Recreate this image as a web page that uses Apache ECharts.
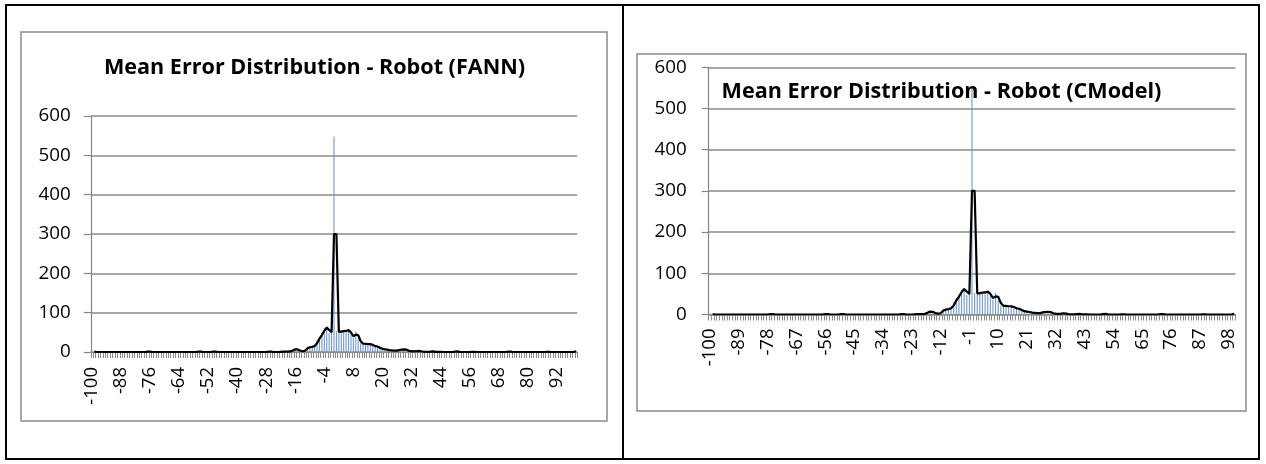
<!DOCTYPE html>
<html>
<head>
<meta charset="utf-8">
<script src="https://cdn.jsdelivr.net/npm/echarts@6/dist/echarts.min.js"></script>
<style>
  html, body { margin: 0; padding: 0; background: #ffffff; }
  #chart { width: 1266px; height: 464px; }
</style>
</head>
<body>
<div id="chart"></div>
<script>
// Error bins from -100 to 100 (one category per integer error value)
const errorBins = [];
for (let v = -100; v <= 100; v++) errorBins.push(String(v));

// Sample counts per error bin, FANN model (bins -100 .. 100)
const fannCounts = [
  2, 0, 0, 0, 0, 0, 0, 0, 0, 0, 0, 0, 0, 0, 0, 0, 0, 0, 0, 0,        // -100 .. -81
  0, 0, 0, 2, 0, 0, 0, 0, 0, 0, 0, 0, 0, 0, 0, 0, 0, 0, 0, 0,        //  -80 .. -61
  0, 0, 0, 0, 2, 0, 0, 0, 0, 0, 2, 0, 0, 0, 0, 0, 0, 0, 0, 0,        //  -60 .. -41
  0, 0, 0, 0, 0, 0, 0, 0, 0, 0, 0, 0, 0, 2, 0, 0, 0, 0, 1, 1,        //  -40 .. -21
  1, 1, 2, 6, 8, 5, 2, 2, 4, 14, 10, 16, 14, 30, 38, 48, 60, 64, 48, 52, // -20 .. -1
  548, 52, 50, 54, 52, 55, 56, 44, 36, 52, 34, 22, 20, 22, 18, 22, 14, 16, 12, 10, // 0 .. 19
  6, 8, 4, 5, 3, 4, 3, 7, 5, 8, 4, 2, 2, 1, 3, 3, 1, 0, 1, 0,        //   20 .. 39
  2, 1, 0, 1, 0, 0, 0, 0, 0, 0, 2, 1, 0, 0, 0, 0, 0, 1, 0, 0,        //   40 .. 59
  0, 0, 0, 0, 0, 0, 0, 0, 0, 0, 0, 0, 2, 0, 0, 0, 0, 0, 0, 0,        //   60 .. 79
  0, 0, 0, 0, 0, 0, 0, 0, 1, 0, 0, 0, 0, 0, 0, 0, 0, 0, 0, 0, 4      //   80 .. 100
];

// Sample counts per error bin, CModel (bins -100 .. 100)
const cmodelCounts = [
  2, 0, 0, 0, 0, 0, 0, 0, 0, 0, 0, 0, 0, 0, 0, 0, 0, 0, 0, 0,
  0, 0, 0, 2, 0, 0, 0, 0, 0, 0, 0, 0, 0, 0, 0, 0, 0, 0, 0, 0,
  0, 0, 0, 0, 2, 0, 0, 0, 0, 0, 2, 0, 0, 0, 0, 0, 0, 0, 0, 0,
  0, 0, 0, 0, 0, 0, 0, 0, 0, 0, 0, 0, 0, 2, 0, 0, 0, 0, 1, 1,
  1, 1, 2, 6, 8, 5, 2, 2, 4, 14, 10, 16, 14, 30, 38, 48, 60, 64, 48, 52,
  548, 52, 50, 54, 52, 55, 56, 44, 36, 52, 34, 22, 20, 22, 18, 22, 14, 16, 12, 10,
  6, 8, 4, 5, 3, 4, 3, 7, 5, 8, 4, 2, 2, 1, 3, 3, 1, 0, 1, 0,
  2, 1, 0, 1, 0, 0, 0, 0, 0, 0, 2, 1, 0, 0, 0, 0, 0, 1, 0, 0,
  0, 0, 0, 0, 0, 0, 0, 0, 0, 0, 0, 0, 2, 0, 0, 0, 0, 0, 0, 0,
  0, 0, 0, 0, 0, 0, 0, 0, 1, 0, 0, 0, 0, 0, 0, 0, 0, 0, 0, 0, 4
];

const titles = [
  'Mean Error Distribution - Robot (FANN)',
  'Mean Error Distribution - Robot (CModel)'
];

// 2-period moving-average trendline drawn over each histogram
function movingAverage(values) {
  return values.map((v, i) => (i === 0 ? null : (values[i - 1] + v) / 2));
}

const FONT = "'Open Sans', sans-serif";
const GRID_GREY = '#8a8a8a';
const AXIS_GREY = '#868686';
const BAR_BLUE = '#6f98cf';

const panels = [
  { counts: fannCounts, grid: { left: 90.8, top: 116, width: 486.4, height: 236 },
    labelEvery: 11, xMargin: 15, yMargin: 20 },
  { counts: cmodelCounts, grid: { left: 708.7, top: 67.3, width: 526.6, height: 247.2 },
    labelEvery: 10, xMargin: 14, yMargin: 22 }
];

const option = {
  animation: false,
  backgroundColor: '#ffffff',
  title: [
    { text: titles[0], left: 314.5, top: 68, padding: 0,
      textAlign: 'center', textVerticalAlign: 'middle',
      textStyle: { fontFamily: FONT, fontWeight: 'bold', fontSize: 21.6, color: '#000' } },
    { text: titles[1], left: 941.5, top: 91.5, padding: 0,
      textAlign: 'center', textVerticalAlign: 'middle',
      textStyle: { fontFamily: FONT, fontWeight: 'bold', fontSize: 21.6, color: '#000' } }
  ],
  graphic: [
    // table frame around the two panels
    { type: 'rect', silent: true, z: -1,
      shape: { x: 6, y: 5, width: 1253, height: 454 },
      style: { fill: 'none', stroke: '#000', lineWidth: 2 } },
    { type: 'line', silent: true, z: -1,
      shape: { x1: 623, y1: 5, x2: 623, y2: 459 },
      style: { stroke: '#000', lineWidth: 2 } },
    // chart-area borders
    { type: 'rect', silent: true, z: -1,
      shape: { x: 21, y: 32, width: 586, height: 389 },
      style: { fill: 'none', stroke: '#8c8c8c', lineWidth: 1.5 } },
    { type: 'rect', silent: true, z: -1,
      shape: { x: 637, y: 54, width: 609, height: 357 },
      style: { fill: 'none', stroke: '#8c8c8c', lineWidth: 1.5 } }
  ],
  grid: panels.map(p => Object.assign({ containLabel: false }, p.grid)),
  xAxis: panels.map((p, i) => ({
    type: 'category',
    gridIndex: i,
    data: errorBins,
    boundaryGap: true,
    axisLine: { lineStyle: { color: AXIS_GREY, width: 1.2 } },
    axisTick: { show: true, interval: 0, length: 6, lineStyle: { color: '#8c8c8c', width: 1 } },
    axisLabel: {
      interval: p.labelEvery, rotate: 90, margin: p.xMargin,
      fontFamily: FONT, fontSize: 18.5, color: '#000'
    },
    splitLine: { show: false }
  })),
  yAxis: panels.map((p, i) => ({
    type: 'value',
    gridIndex: i,
    min: 0, max: 600, interval: 100,
    axisLine: { show: true, lineStyle: { color: AXIS_GREY, width: 1.2 } },
    axisTick: { show: true, length: 7, lineStyle: { color: AXIS_GREY, width: 1.2 } },
    axisLabel: { margin: p.yMargin, fontFamily: FONT, fontSize: 18.8, color: '#000' },
    splitLine: { show: true, lineStyle: { color: GRID_GREY, width: 1.5 } }
  })),
  series: panels.flatMap((p, i) => [
    {
      type: 'bar', xAxisIndex: i, yAxisIndex: i,
      data: p.counts, barWidth: 1.1,
      itemStyle: { color: BAR_BLUE },
      silent: true
    },
    {
      type: 'line', xAxisIndex: i, yAxisIndex: i,
      data: movingAverage(p.counts),
      showSymbol: false, symbol: 'none',
      lineStyle: { color: '#000', width: 2.2 },
      silent: true, z: 3
    }
  ])
};

const chart = echarts.init(document.getElementById('chart'), null, { renderer: 'canvas' });
chart.setOption(option);
</script>
</body>
</html>
